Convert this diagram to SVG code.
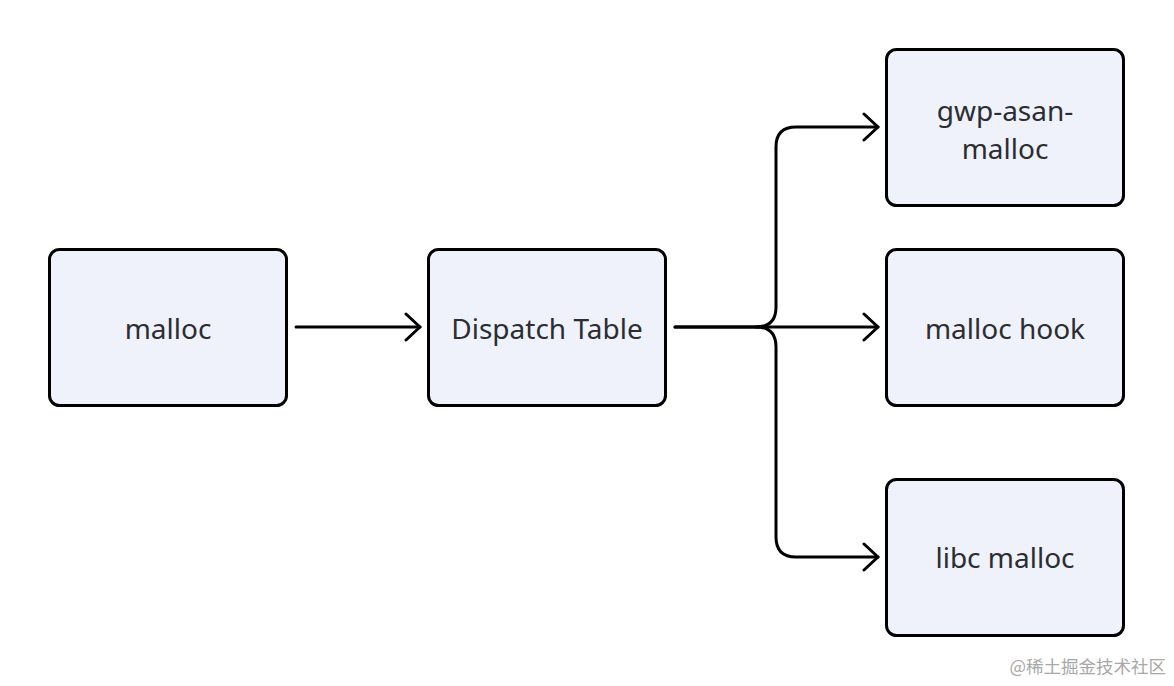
<svg xmlns="http://www.w3.org/2000/svg" width="1174" height="686" viewBox="0 0 1174 686">
<style>
.box{fill:#eff2fa;stroke:#000;stroke-width:3}
.lbl{font-family:"Noto Sans","Noto Sans CJK SC",sans-serif;font-size:28px;fill:#2b2d33;text-anchor:middle}
.edge{fill:none;stroke:#000;stroke-width:3;stroke-linecap:round;stroke-linejoin:round}
.wm{font-family:"Noto Sans CJK SC","Noto Sans",sans-serif;font-size:17.5px;fill:#a8a8a8;text-anchor:end}
</style>
<defs>
<marker id="arr" markerUnits="userSpaceOnUse" markerWidth="20" markerHeight="30" viewBox="-16 -15 20 30" refX="0" refY="0" orient="auto">
<path d="M-14,-13 L0,0 L-14,13" fill="none" stroke="#000" stroke-width="3" stroke-linecap="round" stroke-linejoin="round"/>
</marker>
</defs>
<rect width="1174" height="686" fill="#fff"/>
<g id="connectors">
<path class="edge" d="M296,327 L420,327" marker-end="url(#arr)"/>
<path class="edge" d="M675,327 L878,327" marker-end="url(#arr)"/>
<path class="edge" d="M675,327 L756,327 Q776,327 776,307 L776,147 Q776,127 796,127 L878,127" marker-end="url(#arr)"/>
<path class="edge" d="M756,327 Q776,327 776,347 L776,537 Q776,557 796,557 L878,557" marker-end="url(#arr)"/>
</g>
<g id="node-malloc"><rect class="box" x="49.5" y="249.5" width="237" height="156" rx="10"/><text class="lbl" x="168" y="339">malloc</text></g>
<g id="node-dispatch"><rect class="box" x="428.5" y="249.5" width="237" height="156" rx="10"/><text class="lbl" x="547" y="339">Dispatch Table</text></g>
<g id="node-gwp"><rect class="box" x="886.5" y="49.5" width="237" height="156" rx="10"/><text class="lbl" x="1005" y="121">gwp-asan-</text><text class="lbl" x="1005" y="159">malloc</text></g>
<g id="node-hook"><rect class="box" x="886.5" y="249.5" width="237" height="156" rx="10"/><text class="lbl" x="1005" y="339">malloc hook</text></g>
<g id="node-libc"><rect class="box" x="886.5" y="479.5" width="237" height="156" rx="10"/><text class="lbl" x="1005" y="568">libc malloc</text></g>
<text class="wm" x="1166" y="673">@稀土掘金技术社区</text>
</svg>
